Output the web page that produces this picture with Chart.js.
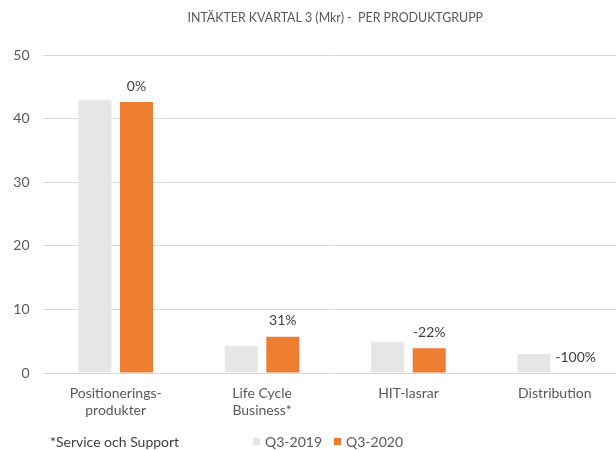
<!DOCTYPE html>
<html>
<head>
<meta charset="utf-8">
<script src="https://cdn.jsdelivr.net/npm/chart.js@4/dist/chart.umd.min.js"></script>
<style>
html,body{margin:0;padding:0;background:#fff;overflow:hidden;}
#wrap{position:relative;width:628px;height:450px;}
</style>
</head>
<body>
<div id="wrap"><canvas id="c" width="628" height="450"></canvas></div>
<script>
const chartTitle = 'INTÄKTER KVARTAL 3 (Mkr) -  PER PRODUKTGRUPP';
const footnote = '*Service och Support';
const categories = [['Positionerings-','produkter'], ['Life Cycle','Business*'], 'HIT-lasrar', 'Distribution'];
const seriesNames = ['Q3-2019', 'Q3-2020'];
const q3_2019 = [42.9, 4.3, 4.9, 3.0];
const q3_2020 = [42.6, 5.7, 3.9, 0];
const changeLabels = ['0%', '31%', '-22%', '-100%'];
const yTicks = [0, 10, 20, 30, 40, 50];

const FONT = 'Lato, "Open Sans", sans-serif';
const GRAY = '#e7e6e6';
const ORANGE = '#ed7d31';

const extras = {
  id: 'extras',
  afterDraw(chart) {
    const ctx = chart.ctx;
    ctx.save();
    // title
    ctx.fillStyle = '#595959';
    ctx.font = '12.4px ' + FONT;
    ctx.textAlign = 'center';
    ctx.textBaseline = 'middle';
    ctx.fillText(chartTitle, (chart.chartArea.left + chart.chartArea.right) / 2, 18);
    // data labels
    const meta = chart.getDatasetMeta(1);
    ctx.fillStyle = '#404040';
    ctx.font = '14px ' + FONT;
    meta.data.forEach((el, i) => {
      ctx.fillText(changeLabels[i], el.x, el.y - 16);
    });
    // footnote
    ctx.fillStyle = '#404040';
    ctx.textAlign = 'left';
    ctx.fillText(footnote, 50, 442);
    // legend
    const colors = [GRAY, ORANGE];
    const starts = [253, 334];
    seriesNames.forEach((n, i) => {
      ctx.fillStyle = colors[i];
      ctx.fillRect(starts[i], 438, 7, 7);
      ctx.fillStyle = '#595959';
      ctx.fillText(n, starts[i] + 12, 442);
    });
    ctx.restore();
  }
};

new Chart(document.getElementById('c'), {
  type: 'bar',
  data: {
    labels: categories,
    datasets: [
      { label: seriesNames[0], data: q3_2019, backgroundColor: GRAY },
      { label: seriesNames[1], data: q3_2020, backgroundColor: ORANGE }
    ]
  },
  options: {
    responsive: false,
    animation: false,
    devicePixelRatio: 1,
    categoryPercentage: 0.568,
    barPercentage: 0.795,
    layout: { padding: { top: 55, bottom: 27, left: 0, right: 0 } },
    plugins: { legend: { display: false }, title: { display: false }, tooltip: { enabled: false } },
    scales: {
      x: {
        grid: { display: false, drawTicks: false },
        border: { display: false },
        ticks: { color: '#595959', font: { family: FONT, size: 14 }, padding: 12, maxRotation: 0, autoSkip: false },
        afterFit(s) { s.height = 50; }
      },
      y: {
        min: 0, max: 50,
        afterBuildTicks(s) { s.ticks = yTicks.map(v => ({ value: v })); },
        grid: { color: '#d9d9d9', drawTicks: false },
        border: { display: false },
        ticks: { color: '#595959', font: { family: FONT, size: 14 }, padding: 13 },
        afterFit(s) { s.width = 42.5; }
      }
    }
  },
  plugins: [extras]
});
</script>
</body>
</html>
